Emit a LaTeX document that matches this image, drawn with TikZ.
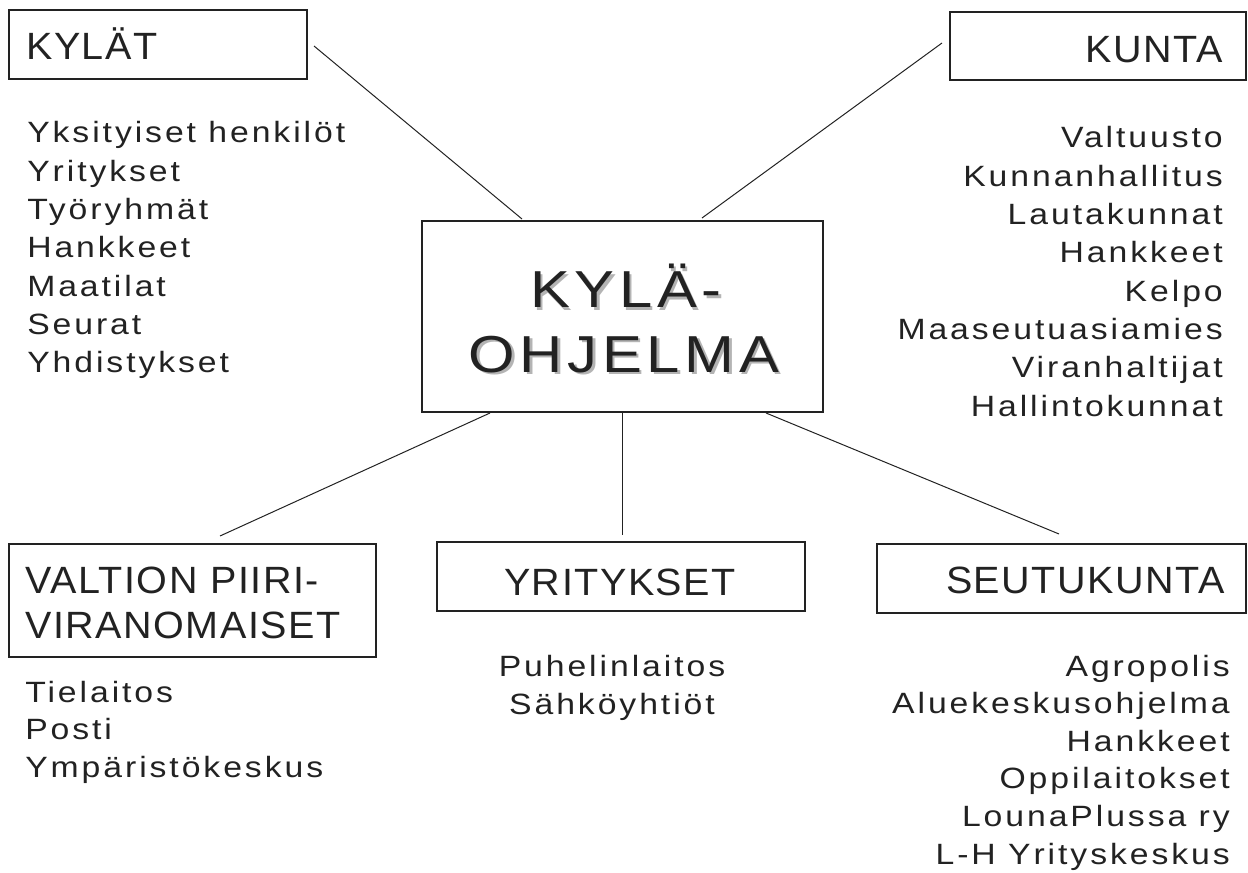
\documentclass[tikz,border=0pt]{standalone}
\usepackage{fontspec}
\setmainfont{Liberation Sans}
\newfontfamily\listfont[FakeStretch=1.15,LetterSpace=10]{Liberation Sans}
\newfontfamily\titlefont[FakeStretch=1.04,LetterSpace=4]{Liberation Sans}
\newfontfamily\bigfont[FakeStretch=1.15,LetterSpace=9]{Liberation Sans}
\usetikzlibrary{calc}
\definecolor{ink}{HTML}{222222}
\definecolor{shade}{HTML}{B4B4B4}
\tikzset{
  box/.style={draw=ink, line width=1.5pt, rectangle, inner sep=0pt},
  conn/.style={draw=ink, line width=0.75pt},
  title/.style={font=\titlefont\fontsize{28.5}{34}\selectfont, inner sep=0pt, text=ink},
  item/.style={font=\listfont\fontsize{22}{26}\selectfont, inner sep=0pt, text=ink},
  big/.style={font=\bigfont\fontsize{39}{46}\selectfont, inner sep=0pt, text=ink},
  bigshade/.style={font=\bigfont\fontsize{39}{46}\selectfont, inner sep=0pt, text=shade}
}
\begin{document}
\begin{tikzpicture}[x=0.75pt,y=-0.75pt]
\useasboundingbox (0,0) rectangle (1248,873);
% boxes
\node[box, minimum width=223.5pt, minimum height=51.75pt] (kylat) at (158,44.5) {};
\node[box, minimum width=222pt, minimum height=51pt] (kunta) at (1098,46) {};
\node[box, minimum width=300.75pt, minimum height=143.25pt] (center) at (622.5,316.5) {};
\node[box, minimum width=275.25pt, minimum height=84.75pt] (valtion) at (192.5,600.5) {};
\node[box, minimum width=276pt, minimum height=51.75pt] (yrit) at (621,576.5) {};
\node[box, minimum width=276.75pt, minimum height=51.75pt] (seutu) at (1061.5,578.5) {};
% connectors
\draw[conn] ($(kylat.east)+(6,1.5)$) -- ($(center.north west)+(101,-1)$);
\draw[conn] ($(kunta.west)+(-7,-3)$) -- ($(center.north west)+(281,-2)$);
\draw[conn] ($(center.south west)+(69,0)$) -- ($(valtion.north west)+(212,-7)$);
\draw[conn] (center.south) -- ($(center.south |- yrit.north)+(0,-6)$);
\draw[conn] ($(center.south west)+(345,0)$) -- ($(seutu.north west)+(183,-9)$);
% titles
\node[title, anchor=base west] (tkylat) at (26,60) {KYLÄT};
\node[title, anchor=base east] (tkunta) at (1223,63) {KUNTA};
\node[title, anchor=base west] (tval1) at (25,593) {VALTION PIIRI-};
\node[title, anchor=base west] (tval2) at (25,638) {VIRANOMAISET};
\node[title, anchor=base] (tyrit) at (620,595) {YRITYKSET};
\node[title, anchor=base east] (tseutu) at (1225,593) {SEUTUKUNTA};
% central text with shadow
\node[bigshade, anchor=base] (s1) at (628.5,310.5) {KYLÄ-};
\node[bigshade, anchor=base] (s2) at (626.5,374.5) {OHJELMA};
\node[big, anchor=base] (c1) at (626,308) {KYLÄ-};
\node[big, anchor=base] (c2) at (624,372) {OHJELMA};
% lists
\foreach \t [count=\i from 0] in {Yksityiset henkilöt,Yritykset,Työryhmät,Hankkeet,Maatilat,Seurat,Yhdistykset}
  \node[item, anchor=base west] (kl\i) at (27,{143+38.3*\i}) {\t};
\foreach \t [count=\i from 0] in {Valtuusto,Kunnanhallitus,Lautakunnat,Hankkeet,Kelpo,Maaseutuasiamies,Viranhaltijat,Hallintokunnat}
  \node[item, anchor=base east] (ku\i) at (1223,{148+38.3*\i}) {\t};
\foreach \t [count=\i from 0] in {Tielaitos,Posti,Ympäristökeskus}
  \node[item, anchor=base west] (vl\i) at (25,{702+37.7*\i}) {\t};
\foreach \t [count=\i from 0] in {Puhelinlaitos,Sähköyhtiöt}
  \node[item, anchor=base] (yl\i) at (612,{676+38*\i}) {\t};
\foreach \t [count=\i from 0] in {Agropolis,Aluekeskusohjelma,Hankkeet,Oppilaitokset,LounaPlussa ry,L-H Yrityskeskus}
  \node[item, anchor=base east] (sl\i) at (1230,{676+37.6*\i}) {\t};
\end{tikzpicture}
\end{document}
